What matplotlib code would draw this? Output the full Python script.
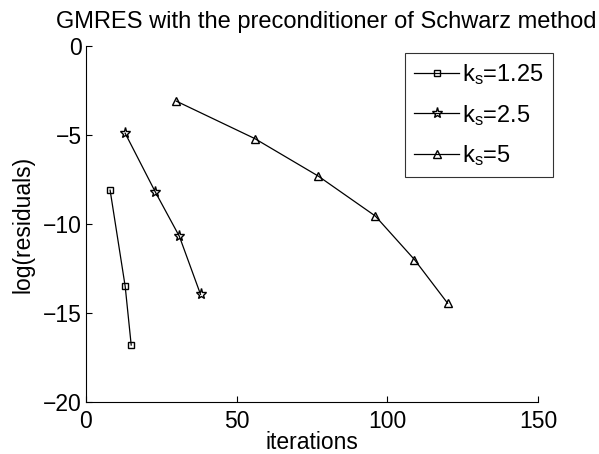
import matplotlib
matplotlib.use("Agg")
import matplotlib.pyplot as plt

plt.rcParams["font.family"] = ["Liberation Sans", "DejaVu Sans"]
plt.rcParams["mathtext.default"] = "regular"

# values
iters_125 = [8, 13, 15]
res_125 = [-8.1, -13.5, -16.8]

iters_25 = [13, 23, 31, 38]
res_25 = [-4.9, -8.2, -10.7, -13.95]

iters_5 = [30, 56, 77, 96, 109, 120]
res_5 = [-3.1, -5.2, -7.3, -9.55, -12.0, -14.45]

labels = [r"k$_s$=1.25", r"k$_s$=2.5", r"k$_s$=5"]
xticks = [0, 50, 100, 150]
yticks = [0, -5, -10, -15, -20]

fig = plt.figure(figsize=(5.99, 4.54), dpi=100)
ax = fig.add_axes([86 / 599, 52 / 454, (538 - 86) / 599, (402 - 46) / 454])

kw = dict(color="black", lw=0.9, markerfacecolor="none", markeredgecolor="black", markeredgewidth=1.0)
ax.plot(iters_125, res_125, marker="s", ms=5, label=labels[0], **kw)
ax.plot(iters_25, res_25, marker="*", ms=8, label=labels[1], **kw)
ax.plot(iters_5, res_5, marker="^", ms=6, label=labels[2], **kw)

ax.set_xlim(0, 150)
ax.set_ylim(-20, 0)
ax.set_xticks(xticks)
ax.set_yticks(yticks)
ax.spines["top"].set_visible(False)
ax.spines["right"].set_visible(False)
for s in ("left", "bottom"):
    ax.spines[s].set_linewidth(0.8)
ax.tick_params(direction="in", length=4, width=0.8, labelsize=16.5)
ax.tick_params(axis="x", pad=6)
ax.tick_params(axis="y", pad=3)

ax.set_xlabel("iterations", fontsize=16.5, labelpad=-2)
ax.set_ylabel("log(residuals)", fontsize=16.5, labelpad=6)
ax.set_title("GMRES with the preconditioner of Schwarz method", fontsize=17, pad=13, x=0.531)

leg = ax.legend(loc="upper left", bbox_to_anchor=(405 / 599, 1 - 53 / 454),
                bbox_transform=fig.transFigure, fontsize=17, frameon=True,
                fancybox=False, handlelength=1.9, handletextpad=0.1,
                borderpad=0.4, labelspacing=0.65, borderaxespad=0)
leg.get_frame().set_edgecolor("black")
leg.get_frame().set_linewidth(0.8)

fig.savefig("out.png", dpi=100)
